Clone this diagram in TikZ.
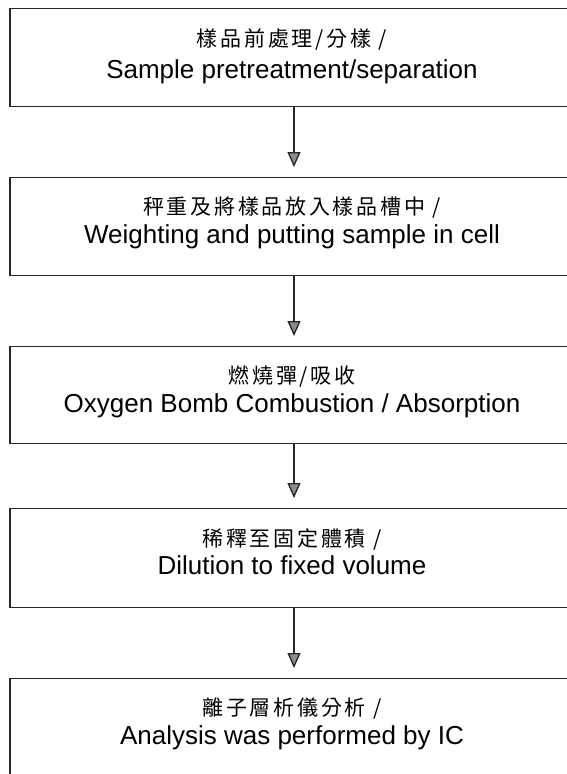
\documentclass[tikz,border=0pt]{standalone}
\usepackage{fontspec}
\setmainfont{Liberation Sans}
\newfontfamily\cjk[LetterSpace=13]{Noto Sans CJK TC}
\usetikzlibrary{arrows.meta}
\tikzset{
  stepbox/.style={draw=black!85, line width=1.3bp, minimum width=564bp, minimum height=98bp, inner sep=0pt, anchor=north},
  zhline/.style={font=\cjk\fontsize{21bp}{24bp}\selectfont, inner sep=0pt, anchor=center},
  enline/.style={font=\fontsize{26bp}{30bp}\selectfont, inner sep=0pt, anchor=base},
  flow/.style={draw=black!85, line width=1.3bp, shorten >=10bp,
    -{Triangle[width=13bp,length=15bp,fill=black!45]}}
}
\begin{document}
\begin{tikzpicture}[x=1bp,y=-1bp]
\useasboundingbox (0,0) rectangle (567,774);
\clip (0,0) rectangle (567,774);
\fill[white] (0,0) rectangle (567,774);
% boxes
\node[stepbox] (b1) at (292,8) {};
\node[stepbox] (b2) at (292,177) {};
\node[stepbox, minimum height=97bp] (b3) at (292,346) {};
\node[stepbox, minimum height=99bp] (b4) at (292,508) {};
\node[stepbox] (b5) at (292,678) {};
% texts
\node[zhline] (z1) at (292,40) {樣品前處理/分樣 /};
\node[enline] (e1) at (292,78) {Sample pretreatment/separation};
\node[zhline] (z2) at (292,208) {秤重及將樣品放入樣品槽中 /};
\node[enline] (e2) at (292,243) {Weighting and putting sample in cell};
\node[zhline] (z3) at (292,377) {燃燒彈/吸收};
\node[enline] (e3) at (292,412) {Oxygen Bomb Combustion / Absorption};
\node[zhline] (z4) at (292,539) {稀釋至固定體積 /};
\node[enline] (e4) at (292,574) {Dilution to fixed volume};
\node[zhline] (z5) at (292,709) {離子層析儀分析 /};
\node[enline] (e5) at (292,744) {Analysis was performed by IC};
% arrows
\draw[flow] (b1.south -| 294,0) -- (b2.north -| 294,0);
\draw[flow] (b2.south -| 294,0) -- (b3.north -| 294,0);
\draw[flow] (b3.south -| 294,0) -- (b4.north -| 294,0);
\draw[flow] (b4.south -| 294,0) -- (b5.north -| 294,0);
\end{tikzpicture}
\end{document}
